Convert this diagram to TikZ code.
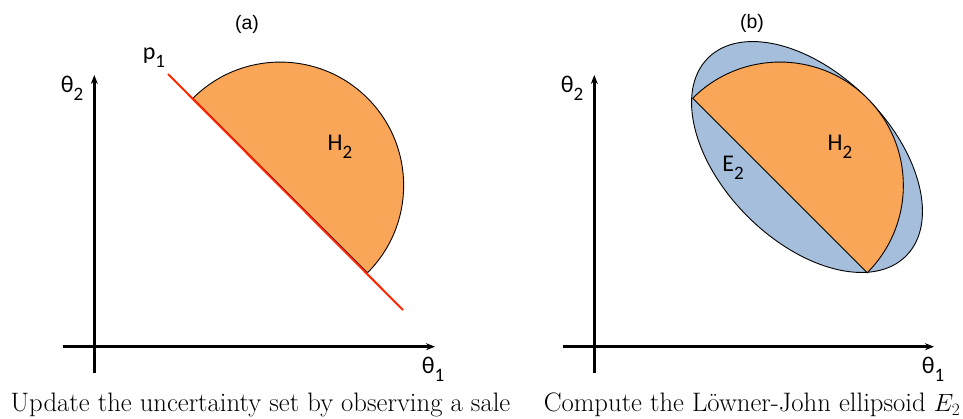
\documentclass[tikz,border=0pt]{standalone}
\usepackage{fontspec}
\newfontfamily\carl{Carlito}
\newfontfamily\arialf{Liberation Sans}
\usetikzlibrary{arrows.meta}
\definecolor{hfill}{RGB}{250,166,88}
\definecolor{efill}{RGB}{164,190,220}
\definecolor{pline}{RGB}{255,40,0}
\newcommand\sbs[1]{\raisebox{-0.33em}{\fontsize{19}{19}\selectfont #1}}
\tikzset{
  axis/.style={line width=3pt,-{Stealth[length=9pt,width=7pt]}},
  lbl/.style={font=\carl\fontsize{24}{24}\selectfont,inner sep=0pt},
  ttl/.style={font=\arialf\fontsize{19.5}{20}\selectfont,inner sep=0pt},
  captxt/.style={font=\fontsize{26.7}{27}\selectfont,inner sep=0pt,anchor=base},
  region/.style={fill=hfill,draw=black,line width=0.9pt},
  ell/.style={fill=efill,draw=black,line width=0.9pt}
}
\begin{document}
\begin{tikzpicture}[x=1pt,y=-1pt]
\useasboundingbox (0,0) rectangle (963,418);
% ---------- panel (a)
\coordinate (ax0) at (63,346.7);
\coordinate (ax1) at (435,346.7);
\coordinate (ay0) at (94.3,373);
\coordinate (ay1) at (94.3,75);
\draw[region] (193,98.2) arc[start angle=-135,end angle=45,radius=123.4] -- cycle;
\coordinate (p1a) at (168,74);
\coordinate (p1b) at (403,310);
\draw[pline,line width=2pt] (p1a) -- (p1b);
\draw[axis] (ax0) -- (ax1);
\draw[axis] (ay0) -- (ay1);
\node[ttl] (ta) at (247,24) {(a)};
\node[lbl] (t2a) at (72,88) {θ\sbs{2}};
\node[lbl] (t1a) at (433,369) {θ\sbs{1}};
\node[lbl] (pa) at (154,58) {p\sbs{1}};
\node[lbl] (ha) at (340,147) {H\sbs{2}};
\node[captxt] (ca) at (260.5,411.5) {Update the uncertainty set by observing a sale};
% ---------- panel (b)
\coordinate (bx0) at (563,346.7);
\coordinate (bx1) at (934,346.7);
\coordinate (by0) at (594.3,373);
\coordinate (by1) at (594.3,75);
\draw[ell,rotate around={-45:(807,157)}] (807,157) ellipse[x radius=140,y radius=84];
\draw[region] (692.7,98.2) arc[start angle=-135,end angle=45,radius=123.4] -- cycle;
\draw[axis] (bx0) -- (bx1);
\draw[axis] (by0) -- (by1);
\node[ttl] (tb) at (752,23) {(b)};
\node[lbl] (t2b) at (572,88) {θ\sbs{2}};
\node[lbl] (t1b) at (933,369) {θ\sbs{1}};
\node[lbl] (hb) at (840,147) {H\sbs{2}};
\node[lbl] (eb) at (733,168) {E\sbs{2}};
\node[captxt] (cb) at (752,411.5) {Compute the Löwner-John ellipsoid $E_2$};
\end{tikzpicture}
\end{document}
